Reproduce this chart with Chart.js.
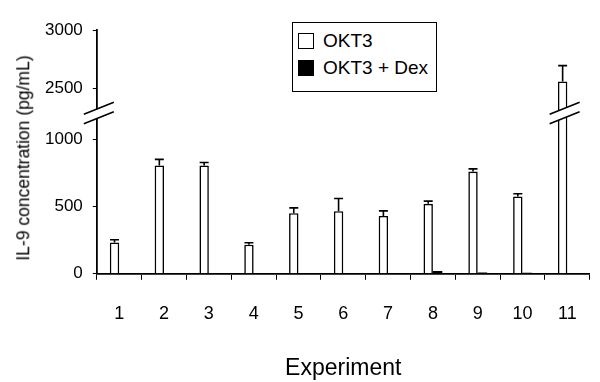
<!DOCTYPE html>
<html><head><meta charset="utf-8">
<script src="https://cdn.jsdelivr.net/npm/chart.js@4/dist/chart.umd.min.js"></script>
<style>
html,body{margin:0;padding:0;background:#fff;}
#wrap{position:relative;width:600px;height:382px;}
#legend{position:absolute;left:292px;top:22px;width:145px;height:70px;border:1.5px solid #000;background:#fff;
  font-family:'Liberation Sans',Arial,sans-serif;font-size:19px;color:#000;box-sizing:border-box;}
.row{position:absolute;left:5px;height:16px;display:flex;align-items:center;white-space:nowrap;}
.sw{width:16px;height:16px;border:1.5px solid #000;box-sizing:border-box;margin-right:9px;flex:none;}
#ytitle{position:absolute;left:24px;top:158px;transform:translate(-50%,-50%) rotate(-90deg);white-space:nowrap;
  font-family:'Liberation Sans',Arial,sans-serif;font-size:17.5px;line-height:1;color:#000;}
</style></head>
<body><div id="wrap"><canvas id="c" width="600" height="382"></canvas><div id="legend"></div><div id="ytitle"></div></div>
<script>
// ---- data ----
const categories = ['1','2','3','4','5','6','7','8','9','10','11'];
const seriesLabels = ['OKT3', 'OKT3 + Dex'];
const okt3Values = [233, 806, 805, 216, 450, 465, 430, 520, 760, 575, 2560];
const okt3Errors = [20, 45, 22, 15, 40, 95, 38, 20, 20, 20, 135];
const okt3DexValues = [0, 0, 0, 0, 0, 0, 0, 20, 10, 8, 0];
const yTickValues = [0, 500, 1000, 2500, 3000];
const yBreak = [1160, 2330];
const xTitle = 'Experiment';
const yTitle = 'IL-9 concentration (pg/mL)';

// ---- broken linear scale ----
const FONT = "'Liberation Sans', Arial, sans-serif";
const breakMap = [[0, 0], [yBreak[0], 0.640], [yBreak[1], 0.679], [3000, 1]];
class BrokenLinearScale extends Chart.LinearScale {
  _toDec(v) {
    const m = breakMap;
    if (v <= m[0][0]) return m[0][1] + (v - m[0][0]) * (m[1][1] - m[0][1]) / (m[1][0] - m[0][0]);
    for (let i = 1; i < m.length; i++) {
      if (v <= m[i][0] || i === m.length - 1) {
        const a = m[i - 1], b = m[i];
        return a[1] + (v - a[0]) * (b[1] - a[1]) / (b[0] - a[0]);
      }
    }
  }
  _fromDec(d) {
    const m = breakMap;
    for (let i = 1; i < m.length; i++) {
      if (d <= m[i][1] || i === m.length - 1) {
        const a = m[i - 1], b = m[i];
        return a[0] + (d - a[1]) * (b[0] - a[0]) / (b[1] - a[1]);
      }
    }
  }
  getPixelForValue(value) {
    if (value === null || isNaN(value)) return NaN;
    return this.getPixelForDecimal(this._toDec(value));
  }
  getValueForPixel(pixel) {
    return this._fromDec(this.getDecimalForPixel(pixel));
  }
}
BrokenLinearScale.id = 'brokenLinear';
BrokenLinearScale.defaults = Chart.LinearScale.defaults;
Chart.register(BrokenLinearScale);

// ---- error bars ----
const errorBarPlugin = {
  id: 'errorBars',
  afterDatasetsDraw(chart) {
    const ctx = chart.ctx, y = chart.scales.y;
    const meta = chart.getDatasetMeta(0);
    ctx.save();
    ctx.strokeStyle = '#000';
    ctx.lineWidth = 1.6;
    meta.data.forEach((bar, i) => {
      const v = okt3Values[i], e = okt3Errors[i];
      const top = y.getPixelForValue(v + e);
      ctx.beginPath();
      ctx.moveTo(bar.x, bar.y);
      ctx.lineTo(bar.x, top);
      ctx.moveTo(bar.x - 4.5, top);
      ctx.lineTo(bar.x + 4.5, top);
      ctx.stroke();
    });
    ctx.restore();
  }
};

// ---- axis break marks ----
function drawBreak(ctx, cx, yHi, yLo, half) {
  const s = 0.4;
  ctx.beginPath();
  ctx.moveTo(cx - half, yHi + s * half);
  ctx.lineTo(cx + half, yHi - s * half);
  ctx.lineTo(cx + half, yLo - s * half);
  ctx.lineTo(cx - half, yLo + s * half);
  ctx.closePath();
  ctx.fillStyle = '#fff';
  ctx.fill();
  ctx.beginPath();
  ctx.moveTo(cx - half, yHi + s * half);
  ctx.lineTo(cx + half, yHi - s * half);
  ctx.moveTo(cx - half, yLo + s * half);
  ctx.lineTo(cx + half, yLo - s * half);
  ctx.strokeStyle = '#000';
  ctx.lineWidth = 1.6;
  ctx.stroke();
}
const breakPlugin = {
  id: 'axisBreak',
  afterDraw(chart) {
    const ctx = chart.ctx, y = chart.scales.y;
    const yLo = y.getPixelForValue(yBreak[0]);
    const yHi = y.getPixelForValue(yBreak[1]);
    ctx.save();
    drawBreak(ctx, chart.chartArea.left + 2, yHi, yLo, 15);
    chart.getDatasetMeta(0).data.forEach((bar, i) => {
      if (okt3Values[i] > yBreak[1]) drawBreak(ctx, bar.x + 2, yHi, yLo, 15);
    });
    ctx.restore();
  }
};

// ---- html legend + y title ----
const htmlLegend = {
  id: 'htmlLegend',
  afterUpdate(chart) {
    const box = document.getElementById('legend');
    box.innerHTML = '';
    chart.data.datasets.forEach((ds, i) => {
      const row = document.createElement('div');
      row.className = 'row';
      row.style.top = (9.5 + i * 27) + 'px';
      const sw = document.createElement('span');
      sw.className = 'sw';
      sw.style.background = ds.backgroundColor;
      const tx = document.createElement('span');
      tx.textContent = ds.label;
      row.appendChild(sw); row.appendChild(tx);
      box.appendChild(row);
    });
    document.getElementById('ytitle').textContent = yTitle;
  }
};

new Chart(document.getElementById('c'), {
  type: 'bar',
  data: {
    labels: categories,
    datasets: [
      { label: seriesLabels[0], data: okt3Values, backgroundColor: '#ffffff', borderColor: '#000000', borderWidth: 1.6,
        categoryPercentage: 0.42, barPercentage: 1 },
      { label: seriesLabels[1], data: okt3DexValues, backgroundColor: '#000000', borderColor: '#000000', borderWidth: 0,
        categoryPercentage: 0.42, barPercentage: 1 }
    ]
  },
  options: {
    responsive: false,
    animation: false,
    layout: { padding: { left: 35, top: 30, right: 7, bottom: 0 } },
    plugins: { legend: { display: false }, tooltip: { enabled: false } },
    scales: {
      x: {
        type: 'category',
        offset: true,
        grid: { display: true, offset: true, drawOnChartArea: false, drawTicks: true, tickLength: 6, color: '#000', lineWidth: 1 },
        border: { display: true, color: '#000', width: 1.8 },
        ticks: { color: '#000', font: { family: FONT, size: 18 }, padding: 23, maxRotation: 0, autoSkip: false },
        title: { display: true, text: xTitle, color: '#000', font: { family: FONT, size: 23 }, padding: { top: 7, bottom: 0 } }
      },
      y: {
        type: 'brokenLinear',
        min: 0, max: 3000,
        afterBuildTicks: (axis) => { axis.ticks = yTickValues.map(v => ({ value: v })); },
        grid: { display: true, drawOnChartArea: false, drawTicks: true, tickLength: 4, color: '#000', lineWidth: 1 },
        border: { display: true, color: '#000', width: 1.8 },
        ticks: { color: '#000', font: { family: FONT, size: 17 }, padding: 10, callback: (v) => String(v) },
        title: { display: false }
      }
    }
  },
  plugins: [errorBarPlugin, breakPlugin, htmlLegend]
});
</script>
</body></html>
